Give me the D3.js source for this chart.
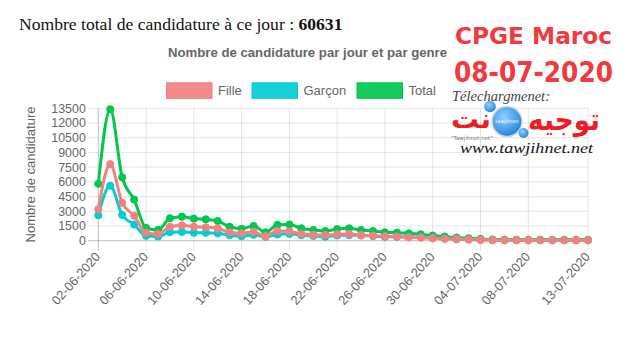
<!DOCTYPE html>
<html><head><meta charset="utf-8">
<script src="https://cdn.jsdelivr.net/npm/d3@7/dist/d3.min.js"></script>
<style>body{margin:0;background:#fff}svg{display:block}</style>
</head><body>
<svg id="c" width="632" height="358"></svg>
<script>
const dates = ["02-06-2020","03-06-2020","04-06-2020","05-06-2020","06-06-2020","07-06-2020","08-06-2020","09-06-2020","10-06-2020","11-06-2020","12-06-2020","13-06-2020","14-06-2020","15-06-2020","16-06-2020","17-06-2020","18-06-2020","19-06-2020","20-06-2020","21-06-2020","22-06-2020","23-06-2020","24-06-2020","25-06-2020","26-06-2020","27-06-2020","28-06-2020","29-06-2020","30-06-2020","01-07-2020","02-07-2020","03-07-2020","04-07-2020","05-07-2020","06-07-2020","07-07-2020","08-07-2020","09-07-2020","10-07-2020","11-07-2020","12-07-2020","13-07-2020"];
const fille  = [3200,7800,3850,2550,800,680,1430,1560,1430,1360,1260,860,760,900,460,990,950,700,600,580,650,690,560,520,460,420,330,310,250,190,170,140,80,60,60,55,50,50,50,50,50,50];
const garcon = [2600,5600,2620,1650,500,420,860,890,820,820,750,560,460,600,390,630,700,560,490,410,540,570,530,470,400,400,420,340,270,230,150,110,100,60,50,50,50,40,40,40,40,40];
const total  = [5800,13400,6470,4200,1300,1100,2290,2450,2250,2180,2010,1420,1220,1500,850,1620,1650,1260,1090,990,1190,1260,1090,990,860,820,750,650,520,420,320,250,180,120,110,105,100,90,90,90,90,90];
const yTicks = [0,1500,3000,4500,6000,7500,9000,10500,12000,13500];
const shownDates = ["02-06-2020","06-06-2020","10-06-2020","14-06-2020","18-06-2020","22-06-2020","26-06-2020","30-06-2020","04-07-2020","08-07-2020","13-07-2020"];
const seriesNames = ["Fille","Garçon","Total"];
const seriesColors = ["#f58080","#00ced4","#00c84e"];
const seriesValues = [fille, garcon, total];

const svg = d3.select("#c");
const L = 98.3, R = 588, B = 240.7, T = 108.3;
const x = d3.scalePoint().domain(dates).range([L, R]);
const y = d3.scaleLinear().domain([0, 13500]).range([B, T]);

// headline
const h = svg.append("text").attr("x",19).attr("y",30)
  .style("font-family","'Liberation Serif','Times New Roman',serif").style("font-size","17.6px").attr("fill","#111");
h.append("tspan").text("Nombre total de candidature à ce jour : ");
h.append("tspan").attr("font-weight","bold").text("60631");

// chart title
svg.append("text").attr("x",307.5).attr("y",57.3).attr("text-anchor","middle")
  .style("font-family","'Liberation Sans',Arial,sans-serif").style("font-size","13.2px")
  .attr("font-weight","bold").attr("fill","#666").text("Nombre de candidature par jour et par genre");

// legend
const legX = [166, 251.5, 356.5];
seriesNames.forEach((n,i)=>{
  svg.append("rect").attr("x",legX[i]+0.5).attr("y",82.8).attr("width",45.5).attr("height",15.5)
    .attr("fill",seriesColors[i]).attr("fill-opacity",0.92).attr("stroke",seriesColors[i]).attr("stroke-width",1);
  svg.append("text").attr("x",legX[i]+52).attr("y",95).style("font-family","'Liberation Sans',Arial,sans-serif")
    .style("font-size","13px").attr("fill","#666").text(n);
});

// grid
const gridC = "rgba(0,0,0,0.1)";
svg.append("g").selectAll("line").data(yTicks).join("line")
  .attr("x1",L-10).attr("x2",R).attr("y1",d=>y(d)).attr("y2",d=>y(d))
  .attr("stroke",d=>d===0?"rgba(0,0,0,0.25)":gridC).attr("stroke-width",1);
svg.append("g").selectAll("line").data(shownDates).join("line")
  .attr("x1",d=>x(d)).attr("x2",d=>x(d)).attr("y1",T).attr("y2",B+10)
  .attr("stroke",(d,i)=>i===0?"rgba(0,0,0,0.25)":gridC).attr("stroke-width",1);

// y axis labels
const ya = svg.append("g").attr("transform",`translate(${L},0)`)
  .call(d3.axisLeft(y).tickValues(yTicks).tickFormat(d3.format("d")).tickSize(0).tickPadding(12.5));
ya.select(".domain").remove();
ya.selectAll("text").style("font-family","'Liberation Sans',Arial,sans-serif").style("font-size","12.4px").attr("fill","#666");

svg.append("text").attr("transform","translate(35,174.5) rotate(-90)").attr("text-anchor","middle")
  .style("font-family","'Liberation Sans',Arial,sans-serif").style("font-size","13px").attr("fill","#666")
  .text("Nombre de candidature");

// x axis labels
const xa = svg.append("g").attr("transform",`translate(0,${B})`)
  .call(d3.axisBottom(x).tickValues(shownDates).tickSize(0));
xa.select(".domain").remove();
xa.selectAll("text").attr("x",0).attr("y",0).attr("dy","0.35em").attr("text-anchor","end")
  .attr("transform","translate(-1,13.5) rotate(-48)")
  .style("font-family","'Liberation Sans',Arial,sans-serif").style("font-size","12.8px").attr("fill","#666");

// series (Total drawn first, Fille on top)
const line = d3.line().x((d,i)=>x(dates[i])).y(d=>y(d)).curve(d3.curveMonotoneX);
[2,1,0].forEach(k=>{
  const g = svg.append("g");
  g.append("path").datum(seriesValues[k]).attr("d",line).attr("fill","none")
    .attr("stroke",seriesColors[k]).attr("stroke-width",3).attr("stroke-linejoin","round");
  g.selectAll("circle").data(seriesValues[k]).join("circle")
    .attr("cx",(d,i)=>x(dates[i])).attr("cy",d=>y(d)).attr("r",3.6)
    .attr("fill",seriesColors[k]).attr("stroke",seriesColors[k]).attr("stroke-width",1);
});

// watermark overlay
const red = "#f03a3f";
svg.append("text").attr("x",455).attr("y",43.5).attr("textLength",157).attr("lengthAdjust","spacingAndGlyphs")
  .style("font-family","'DejaVu Sans',sans-serif").style("font-size","23px").attr("font-weight","bold").attr("fill",red).text("CPGE Maroc");
svg.append("text").attr("x",454).attr("y",81.7).attr("textLength",159).attr("lengthAdjust","spacingAndGlyphs")
  .style("font-family","'DejaVu Sans',sans-serif").style("font-size","27.5px").attr("font-weight","bold").attr("fill",red).text("08-07-2020");
svg.append("text").attr("x",452).attr("y",101).attr("textLength",98).attr("lengthAdjust","spacingAndGlyphs")
  .style("font-family","'Liberation Serif',serif").style("font-size","14px").style("font-style","italic").attr("fill","#444").text("Télechargmenet:");
svg.append("text").attr("x",600).attr("y",130).attr("text-anchor","end").attr("textLength",72).attr("lengthAdjust","spacingAndGlyphs")
  .style("font-family","'DejaVu Sans',sans-serif").style("font-size","30px").attr("font-weight","bold").attr("fill","#ee1c25").text("توجيه");
svg.append("text").attr("x",491).attr("y",128).attr("text-anchor","end").attr("textLength",40).attr("lengthAdjust","spacingAndGlyphs")
  .style("font-family","'DejaVu Sans',sans-serif").style("font-size","26px").attr("font-weight","bold").attr("fill","#ee1c25").text("نت");
const grad = svg.append("defs").append("radialGradient").attr("id","gb").attr("cx","40%").attr("cy","35%").attr("r","70%");
grad.append("stop").attr("offset","0%").attr("stop-color","#8fd0ff");
grad.append("stop").attr("offset","100%").attr("stop-color","#1f7fd8");
svg.append("circle").attr("cx",507).attr("cy",121.5).attr("r",15).attr("fill","url(#gb)").attr("stroke","#cfd8e0").attr("stroke-width",1.5);
svg.append("circle").attr("cx",490).attr("cy",106.5).attr("r",5.8).attr("fill","url(#gb)");
svg.append("circle").attr("cx",523.5).attr("cy",133).attr("r",5).attr("fill","url(#gb)");
svg.append("text").attr("x",507).attr("y",123).attr("text-anchor","middle").style("font-family","'DejaVu Sans',sans-serif").style("font-size","5px").attr("fill","#fff").text("tawjihnet");
svg.append("text").attr("x",451).attr("y",140).style("font-family","'DejaVu Sans',sans-serif").style("font-size","5.5px").attr("fill","#777").text("\"Tawjihnet.net\"");
svg.append("text").attr("x",460).attr("y",153).attr("textLength",133).attr("lengthAdjust","spacingAndGlyphs")
  .style("font-family","'Liberation Serif',serif").style("font-size","15px").style("font-style","italic").attr("fill","#111").text("www.tawjihnet.net");
</script>
</body></html>
